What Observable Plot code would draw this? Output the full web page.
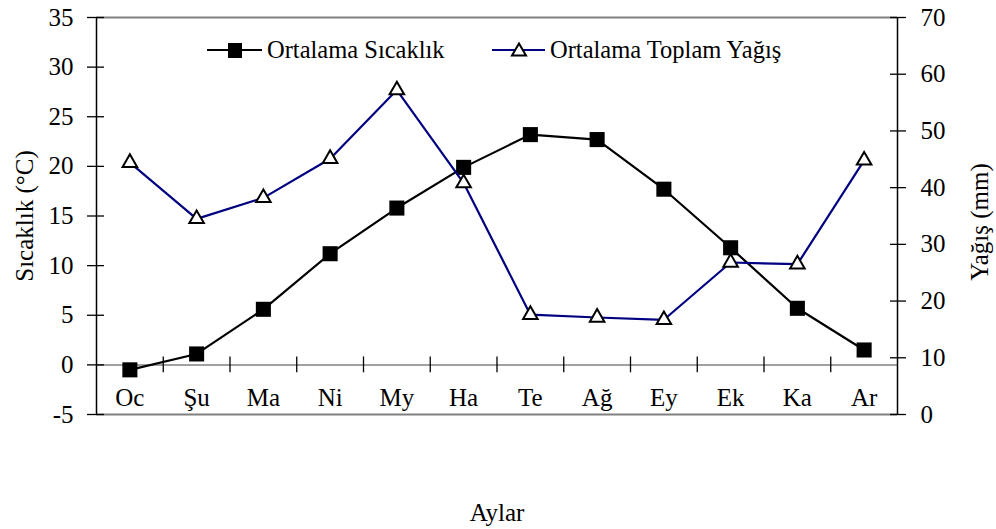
<!DOCTYPE html>
<html>
<head>
<meta charset="utf-8">
<script src="https://cdn.jsdelivr.net/npm/d3@7"></script>
<script src="https://cdn.jsdelivr.net/npm/@observablehq/plot@0.6"></script>
<style>
  html, body { margin: 0; padding: 0; background: #fff; }
  #wrap { position: relative; width: 996px; height: 529px; font-family: "Liberation Serif", "Times New Roman", serif; }
  .leg { position: absolute; display: flex; align-items: center; font-family: "Liberation Serif", "Times New Roman", serif; font-size: 24.5px; color: #000; white-space: nowrap; }
  .leg svg { display: block; margin-right: 4px; }
</style>
</head>
<body>
<div id="wrap"></div>
<script>
const months = ["Oc", "Şu", "Ma", "Ni", "My", "Ha", "Te", "Ağ", "Ey", "Ek", "Ka", "Ar"];
const temperature = [-0.5, 1.1, 5.6, 11.2, 15.8, 19.9, 23.2, 22.7, 17.7, 11.8, 5.7, 1.5];
const precipitation = [44.4, 34.5, 38.2, 45.1, 57.2, 40.8, 17.6, 17.1, 16.7, 26.8, 26.5, 44.8];
const tempTicks = [-5, 0, 5, 10, 15, 20, 25, 30, 35];
const precipTicks = [0, 10, 20, 30, 40, 50, 60, 70];
const seriesNames = ["Ortalama Sıcaklık", "Ortalama Toplam Yağış"];
const yTitle = "Sıcaklık (°C)";
const y2Title = "Yağış (mm)";
const xTitle = "Aylar";

const FONT = "Liberation Serif";
const FS = 25;

// secondary axis (0..70 mm) mapped onto primary domain (-5..35 °C)
const tDomain = [-5, 35], pDomain = [0, 70];
const toT = p => tDomain[0] + (p - pDomain[0]) * (tDomain[1] - tDomain[0]) / (pDomain[1] - pDomain[0]);
const toP = t => pDomain[0] + (t - tDomain[0]) * (pDomain[1] - pDomain[0]) / (tDomain[1] - tDomain[0]);

const rows = months.map((m, i) => ({i, m, t: temperature[i], p: precipitation[i]}));
const boundaries = months.slice(1).map((_, i) => i + 0.5);

const chart = Plot.plot({
  width: 996,
  height: 529,
  marginTop: 17,
  marginBottom: 115,
  marginLeft: 96,
  marginRight: 99,
  style: {fontFamily: "'Liberation Serif', 'Times New Roman', serif", fontSize: FS + "px", color: "#000", background: "#fff"},
  x: {type: "linear", domain: [-0.5, months.length - 0.5], axis: null},
  y: {domain: tDomain, axis: null},
  marks: [
    Plot.ruleY(tDomain, {stroke: "#808080", strokeWidth: 2}),
    Plot.ruleY([0], {stroke: "#808080", strokeWidth: 1.5}),
    Plot.ruleX(boundaries, {y1: -0.8, y2: 0.8, stroke: "#000", strokeWidth: 1.3}),
    Plot.ruleX([-0.5, months.length - 0.5], {stroke: "#000", strokeWidth: 1.5}),
    Plot.axisY(tempTicks, {anchor: "left", tickSize: 17, dx: 8, tickFormat: () => "", label: null, strokeWidth: 1.3}),
    Plot.axisY(tempTicks, {anchor: "left", tickSize: 0, tickPadding: 23, tickFormat: d => String(d), label: null, fontSize: FS, fontFamily: FONT, fontVariant: "normal"}),
    Plot.axisY(precipTicks.map(toT), {anchor: "right", tickSize: 16, dx: -8, tickFormat: () => "", label: null, strokeWidth: 1.3}),
    Plot.axisY(precipTicks.map(toT), {anchor: "right", tickSize: 0, tickPadding: 23, tickFormat: d => String(Math.round(toP(d))), label: null, fontSize: FS, fontFamily: FONT, fontVariant: "normal"}),
    Plot.text(rows, {x: "i", y: tDomain[0], dy: -17, text: "m", lineAnchor: "middle", fontSize: FS, fontFamily: FONT}),
    Plot.line(rows, {x: "i", y: "t", stroke: "#000", strokeWidth: 2.2}),
    Plot.dot(rows, {x: "i", y: "t", symbol: "square", r: 8.5, fill: "#000"}),
    Plot.line(rows, {x: "i", y: d => toT(d.p), stroke: "#000080", strokeWidth: 2.2}),
    Plot.dot(rows, {x: "i", y: d => toT(d.p), symbol: "triangle", r: 5.4, fill: "#fff", stroke: "#000", strokeWidth: 2}),
    Plot.text([yTitle], {frameAnchor: "left", dx: -72, rotate: -90, textAnchor: "middle", lineAnchor: "middle", fontSize: FS, fontFamily: FONT}),
    Plot.text([y2Title], {frameAnchor: "right", dx: 82, dy: 6, rotate: -90, textAnchor: "middle", lineAnchor: "middle", fontSize: FS, fontFamily: FONT}),
    Plot.text([xTitle], {frameAnchor: "bottom", dy: 98, textAnchor: "middle", lineAnchor: "middle", fontSize: FS, fontFamily: FONT})
  ]
});

const wrap = document.getElementById("wrap");
wrap.appendChild(chart);

// legend
const leg1 = document.createElement("div");
leg1.className = "leg";
leg1.style.left = "207px"; leg1.style.top = "36px";
leg1.innerHTML = `<svg width="56" height="28"><line x1="0" y1="14" x2="55" y2="14" stroke="#000" stroke-width="2.2"/><rect x="21" y="7" width="14" height="15" fill="#000"/></svg><span>${seriesNames[0]}</span>`;
wrap.appendChild(leg1);
const leg2 = document.createElement("div");
leg2.className = "leg";
leg2.style.left = "492px"; leg2.style.top = "36px";
leg2.innerHTML = `<svg width="54" height="28"><line x1="0" y1="14" x2="53" y2="14" stroke="#000080" stroke-width="2.2"/><path d="M27,7.5 L34,19.5 L20,19.5 Z" fill="#fff" stroke="#000" stroke-width="2"/></svg><span>${seriesNames[1]}</span>`;
wrap.appendChild(leg2);
</script>
</body>
</html>
